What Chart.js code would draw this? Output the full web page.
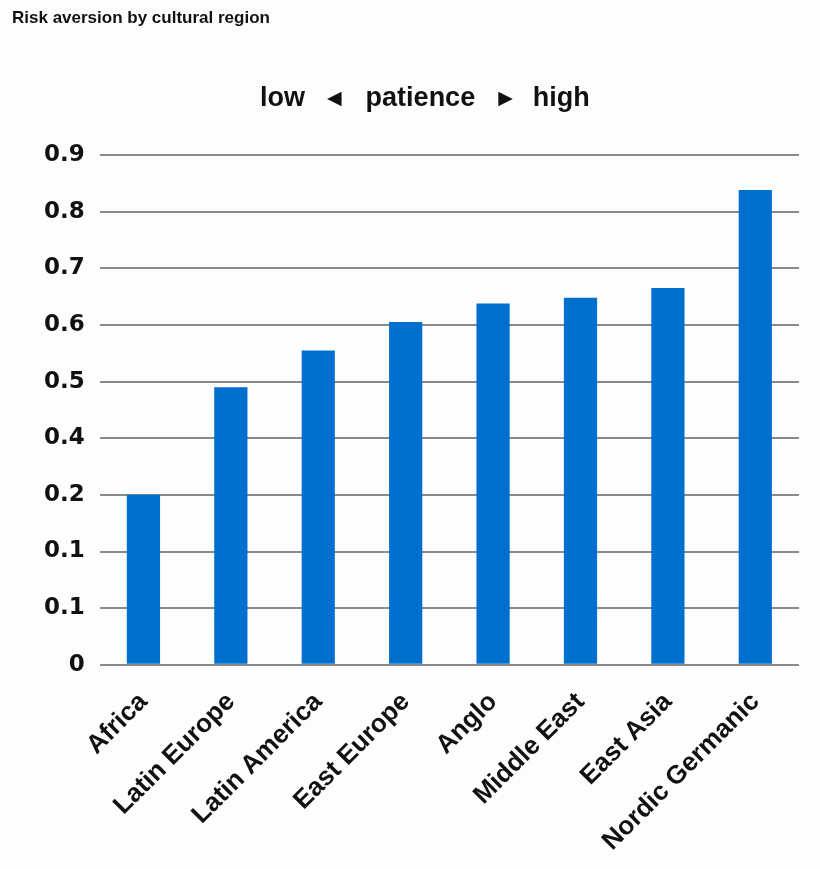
<!DOCTYPE html>
<html>
<head>
<meta charset="utf-8">
<title>Risk aversion by cultural region</title>
<script src="https://cdn.jsdelivr.net/npm/chart.js@4"></script>
<style>
  html, body { margin: 0; padding: 0; background: #fdfdfd; }
  #wrap { width: 820px; height: 869px; }
</style>
</head>
<body>
<div id="wrap"><canvas id="chart" width="820" height="869"></canvas></div>
<script>
// Cultural regions, ordered from low to high patience
const regions = ['Africa', 'Latin Europe', 'Latin America', 'East Europe', 'Anglo', 'Middle East', 'East Asia', 'Nordic Germanic'];
// Risk aversion per region
const riskAversion = [0.30, 0.49, 0.555, 0.605, 0.638, 0.648, 0.665, 0.838];
// Labels printed on the value axis, bottom to top
const yTickLabels = ['0', '0.1', '0.1', '0.2', '0.4', '0.5', '0.6', '0.7', '0.8', '0.9'];

const chartTitle = 'Risk aversion by cultural region';
const patienceCaption = ['low', '\u25C0', 'patience', '\u25B6', 'high'];

const FONT = '"Liberation Sans", Arial, Helvetica, sans-serif';
const TICK_FONT = '"DejaVu Sans", "Liberation Sans", sans-serif';
const BAR_BLUE = '#006fce';
const GRID_GREY = '#8a8a8a';

// Header texts: small title at top left and the patience caption above the plot
const headerText = {
  id: 'headerText',
  afterDraw(chart) {
    const ctx = chart.ctx;
    ctx.save();
    ctx.fillStyle = '#111';
    ctx.textBaseline = 'middle';
    ctx.textAlign = 'left';
    ctx.font = 'bold 17px ' + FONT;
    ctx.fillText(chartTitle, 12, 18);

    const gaps = [22, 24, 23, 20];
    let x = 260;
    const y = 99;
    patienceCaption.forEach((part, i) => {
      const isArrow = part === '\u25C0' || part === '\u25B6';
      ctx.font = isArrow ? '19px "DejaVu Sans", sans-serif' : 'bold 27px ' + FONT;
      ctx.fillText(part, x, y);
      x += ctx.measureText(part).width + (gaps[i] || 0);
    });
    ctx.restore();
  }
};

const ctx = document.getElementById('chart').getContext('2d');
new Chart(ctx, {
  type: 'bar',
  data: {
    labels: regions,
    datasets: [{
      label: 'Risk aversion',
      data: riskAversion,
      backgroundColor: BAR_BLUE,
      borderWidth: 0,
      categoryPercentage: 1.0,
      barPercentage: 0.38
    }]
  },
  options: {
    responsive: false,
    animation: false,
    devicePixelRatio: 1,
    layout: { padding: { top: 155, left: 29, right: 21, bottom: 0 } },
    plugins: {
      legend: { display: false },
      title: { display: false },
      tooltip: { enabled: false }
    },
    scales: {
      x: {
        grid: { display: false, drawTicks: false },
        border: { display: false },
        afterFit(scale) {
          scale.paddingLeft = 0;
          scale.paddingRight = 0;
          scale.height -= 10;
        },
        ticks: {
          color: '#111',
          font: { family: FONT, size: 26, weight: 'bold' },
          minRotation: 45,
          maxRotation: 45,
          autoSkip: false,
          padding: 22
        }
      },
      y: {
        min: 0,
        max: 0.9,
        grid: { color: GRID_GREY, lineWidth: 2, drawTicks: false },
        border: { display: false },
        ticks: {
          stepSize: 0.1,
          color: '#111',
          padding: 15,
          font: { family: TICK_FONT, size: 23, weight: 'bold' },
          callback: (value, index) => yTickLabels[index]
        }
      }
    }
  },
  plugins: [headerText]
});
</script>
</body>
</html>
